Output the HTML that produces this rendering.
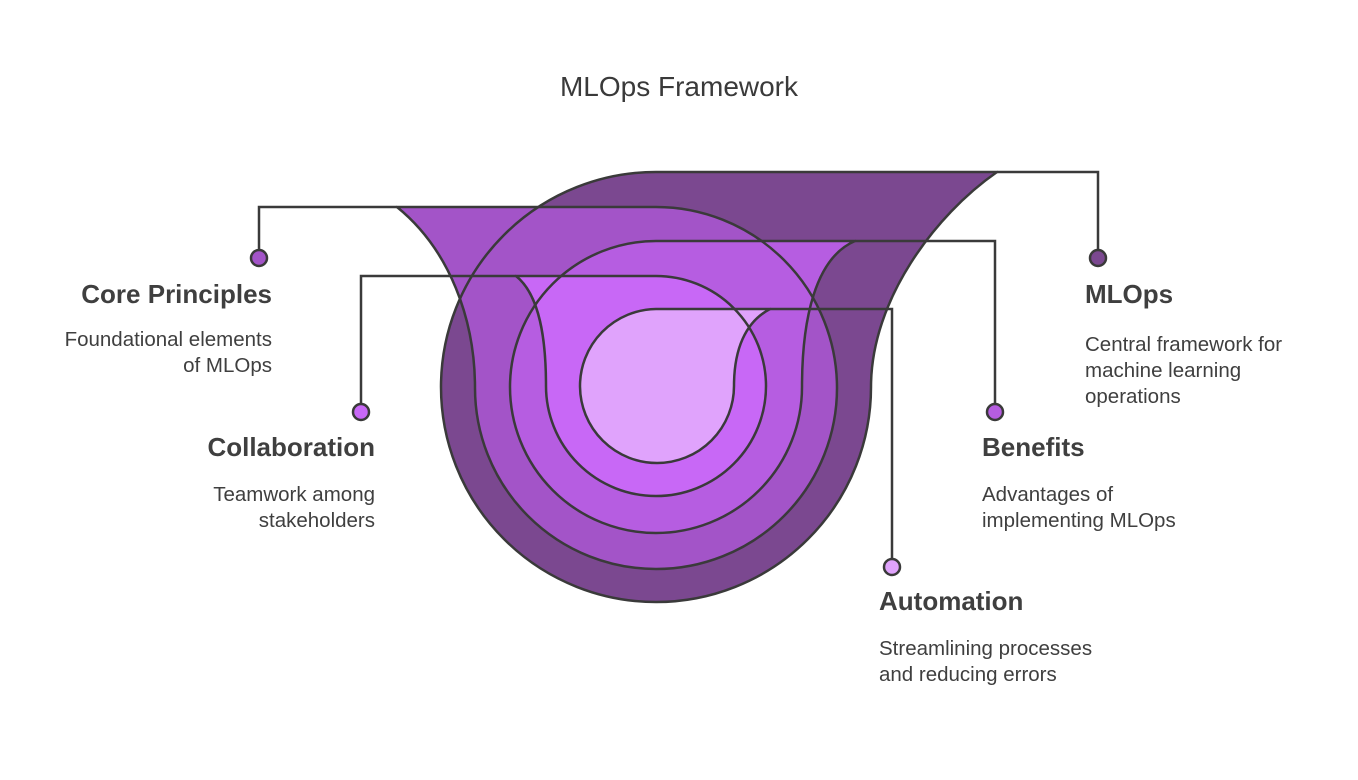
<!DOCTYPE html>
<html><head><meta charset="utf-8"><style>
html,body{margin:0;padding:0;background:#fff;}
body{width:1358px;height:775px;overflow:hidden;}
</style></head><body>
<svg width="1358" height="775" viewBox="0 0 1358 775" xmlns="http://www.w3.org/2000/svg" font-family="Liberation Sans, sans-serif">
<rect width="1358" height="775" fill="#fff"/>
<text x="679" y="96" text-anchor="middle" font-size="28" fill="#3a3a3a">MLOps Framework</text>
<defs>
<path id="p1" d="M656,172 L997,172 C935,215 871,300 871,387 A215,215 0 1 1 656,172 Z"/>
<path id="p2" d="M656,207 L397,207 C450,250 475,320 475,388 A181,181 0 1 0 656,207 Z"/>
<path id="p3" d="M656,241 L855,241 C815,258 802,320 802,387 A146,146 0 1 1 656,241 Z"/>
<path id="p4" d="M656,276 L516,276 C540,295 546,340 546,386 A110,110 0 1 0 656,276 Z"/>
<path id="p5" d="M656,309 L770,309 C745,322 734,350 734,386 A77,77 0 1 1 656,309 Z"/>
</defs>
<use href="#p1" fill="#7b4890"/>
<use href="#p2" fill="#a354c8"/>
<use href="#p3" fill="#b65de1"/>
<use href="#p4" fill="#c868f6"/>
<use href="#p5" fill="#e0a3fc"/>
<g stroke="#3a3a3a" stroke-width="2.5" stroke-linejoin="round" fill="none">
<use href="#p1"/><use href="#p2"/><use href="#p3"/><use href="#p4"/><use href="#p5"/>
</g>
<g stroke="#3a3a3a" stroke-width="2.5" fill="none">
<polyline points="259,250 259,207 397,207"/>
<polyline points="1098,250 1098,172 997,172"/>
<polyline points="361,404 361,276 516,276"/>
<polyline points="995,404 995,241 855,241"/>
<polyline points="892,559 892,309 770,309"/>
</g>
<g stroke="#3a3a3a" stroke-width="2.5">
<circle cx="259" cy="258" r="8" fill="#a354c8"/>
<circle cx="1098" cy="258" r="8" fill="#7b4890"/>
<circle cx="361" cy="412" r="8" fill="#c868f6"/>
<circle cx="995" cy="412" r="8" fill="#b65de1"/>
<circle cx="892" cy="567" r="8" fill="#e0a3fc"/>
</g>
<g fill="#3f3f3f">
<text x="272" y="303" text-anchor="end" font-size="26" font-weight="bold">Core Principles</text>
<text x="272" y="346" text-anchor="end" font-size="20.5">Foundational elements</text>
<text x="272" y="372" text-anchor="end" font-size="20.5">of MLOps</text>
<text x="375" y="456" text-anchor="end" font-size="26" font-weight="bold">Collaboration</text>
<text x="375" y="501" text-anchor="end" font-size="20.5">Teamwork among</text>
<text x="375" y="527" text-anchor="end" font-size="20.5">stakeholders</text>
<text x="1085" y="303" font-size="26" font-weight="bold">MLOps</text>
<text x="1085" y="351" font-size="20.5">Central framework for</text>
<text x="1085" y="377" font-size="20.5">machine learning</text>
<text x="1085" y="403" font-size="20.5">operations</text>
<text x="982" y="456" font-size="26" font-weight="bold">Benefits</text>
<text x="982" y="501" font-size="20.5">Advantages of</text>
<text x="982" y="527" font-size="20.5">implementing MLOps</text>
<text x="879" y="610" font-size="26" font-weight="bold">Automation</text>
<text x="879" y="655" font-size="20.5">Streamlining processes</text>
<text x="879" y="681" font-size="20.5">and reducing errors</text>
</g>
</svg>
</body></html>
